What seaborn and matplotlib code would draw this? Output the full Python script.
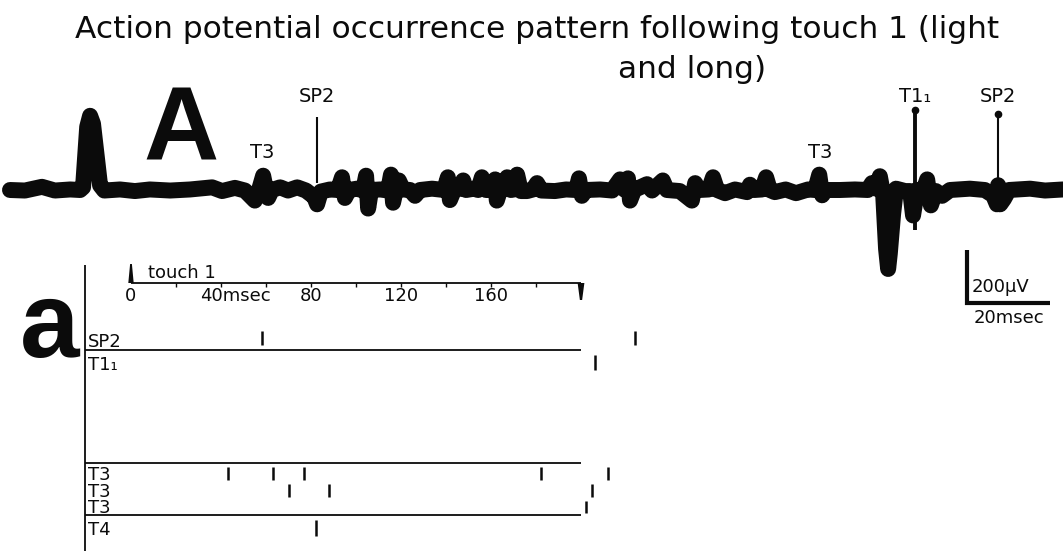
import matplotlib
matplotlib.use("Agg")
import matplotlib.pyplot as plt
import numpy as np
import pandas as pd
import seaborn as sns

# ------------------------------------------------------------------ data
# Panel A: superimposed oscilloscope sweeps, time (ms) and potential (µV)
trace_t = [0, 3.6, 7.7, 10.8, 14.5, 16.9, 17.6, 18.6, 19.3, 20.0,
           21.7, 22.7, 26.5, 30.1, 33.7, 38.6, 43.4, 48.7, 51.1, 54.2,
           56.6, 59.0, 60.0, 61.0, 61.7, 62.2, 63.1, 65.1, 67.0, 69.2,
           71.3, 73.3, 74.0, 74.9, 77.1, 79.0, 80.0, 80.7, 81.7, 83.6,
           85.1, 85.8, 86.3, 87.0, 89.2, 91.1, 91.8, 92.3, 93.0, 93.7,
           94.7, 96.4, 97.6, 98.8, 101.7, 104.6, 105.5, 106.0, 107.0, 108.4,
           109.2, 109.9, 111.8, 112.8, 113.7, 114.7, 116.1, 116.9, 117.3, 118.1,
           119.8, 120.7, 121.4, 122.2, 123.1, 124.6, 126.0, 127.0, 128.0, 131.3,
           134.0, 136.4, 137.1, 137.8, 138.8, 142.2, 145.1, 147.0, 148.0, 148.9,
           149.4, 150.4, 153.5, 154.7, 157.3, 158.3, 161.4, 164.3, 165.1, 166.0,
           168.4, 169.4, 170.4, 172.3, 174.7, 177.6, 178.3, 179.3, 181.2, 182.2,
           183.1, 184.3, 186.9, 189.4, 192.3, 194.0, 195.0, 195.7, 196.6, 200.0,
           203.6, 206.7, 207.7, 208.7, 209.6, 210.4, 211.1, 211.6, 212.0, 212.8,
           213.5, 215.7, 216.9, 217.6, 218.6, 220.2, 221.0, 221.9, 223.1, 224.6,
           226.5, 231.3, 234.9, 236.9, 237.8, 238.1, 238.6, 239.5, 240.7, 245.8,
           249.4, 253.7]
trace_v = [0, -2, 12, -2, 2, 0, 10, 238, 280, 250,
           18, -2, 2, -4, 2, -2, 2, 10, -4, 8,
           -2, -40, 0, 54, 0, -30, 0, 10, -2, 10,
           -2, -26, -54, -6, 2, 0, 48, -30, 0, 5,
           -2, 54, -70, 0, 2, -2, 58, -48, 2, 36,
           2, 0, -22, 0, 5, 0, 48, -38, 0, 5,
           36, 0, 5, 0, 48, 0, 0, 40, -40, 0,
           48, 0, 2, 58, -4, -4, 2, 26, -2, -4,
           2, 0, 44, -22, 0, 2, -2, 40, 2, 44,
           -40, 0, 22, -2, 36, 0, -4, -40, 26, 0,
           2, 48, 0, -12, 2, -8, 20, 0, 2, 48,
           0, -8, 2, -12, 2, 0, 58, -20, 0, 0,
           2, 0, 26, 5, 52, -16, -222, -298, -240, -90,
           5, -4, -4, -96, 0, 2, 40, -58, -4, -22,
           0, 5, 0, -20, -54, 18, -54, -34, 0, 5,
           -2, 2]

# fast spikes seen as thin vertical strokes in panel A
spike_names = ["SP2", "T1₁", "SP2"]
spike_t = [73.9, 218.1, 238.1]
spike_base = [26, -151, 19]
spike_peak = [275, 302, 287]
spike_dot = [False, True, True]

# other unit labels in panel A
unit_names = ["T3", "T3"]
unit_t = [60.7, 195.2]

# Panel a: occurrence pattern (raster), time after touch 1 in ms
raster_rows = ["SP2", "T1₁", "T3", "T3", "T3", "T4"]
raster_times = [[58, 224], [206], [43, 63, 77, 182, 212], [70, 88, 205], [202], [82]]
axis_ticks = [0, 40, 80, 120, 160]
axis_tick_labels = ["0", "40msec", "80", "120", "160"]
sweep_end = 200

# ------------------------------------------------------------------ style
sns.set_theme(style="white")
plt.rcParams["font.family"] = ["DejaVu Sans"]
INK = "#0b0b0b"

W, H = 1063, 551
fig = plt.figure(figsize=(W / 100, H / 100), dpi=100)
fig.patch.set_facecolor("white")

# pixel overlay (text layout)
ax_px = fig.add_axes([0, 0, 1, 1])
ax_px.set_xlim(0, W)
ax_px.set_ylim(H, 0)
ax_px.axis("off")

# panel A axes: ms / µV scaled like the oscillogram
px_per_ms_A = 83 / 20.0
px_per_uV = 53 / 200.0
x0_A, base_A = 10, 190
ax_t = fig.add_axes([0, 0, 1, 1])
ax_t.set_xlim(-x0_A / px_per_ms_A, (W - x0_A) / px_per_ms_A)
ax_t.set_ylim(-(H - base_A) / px_per_uV, base_A / px_per_uV)
ax_t.axis("off")
ax_t.patch.set_alpha(0)

# panel a axes: x in ms after touch, y in pixel rows
px_per_ms_a = 2.25
x0_a = 131
ax_r = fig.add_axes([0, 0, 1, 1])
ax_r.set_xlim(-x0_a / px_per_ms_a, (W - x0_a) / px_per_ms_a)
ax_r.set_ylim(H, 0)
ax_r.axis("off")
ax_r.patch.set_alpha(0)

# ------------------------------------------------------------------ title
ax_px.text(537, 30, "Action potential occurrence pattern following touch 1 (light",
           ha="center", va="center", fontsize=22.5, color=INK)
ax_px.text(692, 70, "and long)", ha="center", va="center", fontsize=22.5, color=INK)

# big panel letters
ax_px.text(181, 160, "A", ha="center", va="baseline", fontsize=75,
           family="Liberation Sans", fontweight="bold", color=INK)
ax_px.text(50, 357, "a", ha="center", va="baseline", fontsize=77,
           family="Liberation Sans", fontweight="bold", color=INK)

# ------------------------------------------------------------------ panel A trace
df = pd.DataFrame({"t": trace_t, "v": trace_v})
sns.lineplot(data=df, x="t", y="v", ax=ax_t, color=INK, lw=11.5, sort=False,
             estimator=None, legend=False, solid_joinstyle="round",
             solid_capstyle="round")
ax_t.set_xlabel("")
ax_t.set_ylabel("")

label_v = (base_A - 97) / px_per_uV
for name, t, b, p, d in zip(spike_names, spike_t, spike_base, spike_peak, spike_dot):
    lw = 2.8 if name.startswith("T1") else 1.5
    ax_t.plot([t, t], [b, p], color=INK, lw=lw, solid_capstyle="butt")
    if d:
        ax_t.plot([t], [p], "o", color=INK, ms=4.5)
    ax_t.text(t, label_v, name, ha="center", va="center", fontsize=14, color=INK)

for name, t in zip(unit_names, unit_t):
    ax_t.text(t, (base_A - 152) / px_per_uV, name, ha="center", va="center",
              fontsize=14, color=INK)

# scale bar: 20 ms, 200 µV
sb_t = (967 - x0_A) / px_per_ms_A
sb_v = (base_A - 303) / px_per_uV
ax_t.plot([sb_t, sb_t, sb_t + 20], [sb_v + 200, sb_v, sb_v], color=INK, lw=3,
          solid_joinstyle="miter", solid_capstyle="butt")
ax_t.text(sb_t + 1.2, sb_v + 62, "200µV", ha="left", va="center", fontsize=13, color=INK)
ax_t.text(sb_t + 10, sb_v - 58, "20msec", ha="center", va="center", fontsize=13, color=INK)

# ------------------------------------------------------------------ panel a raster
left_t = (85 - x0_a) / px_per_ms_a
# frame lines
ax_r.vlines(left_t, 265, H, color=INK, lw=1.3)
ax_r.hlines(283, 0, sweep_end, color=INK, lw=1.3)
ax_r.vlines(np.arange(20, sweep_end, 20), 283, 286.5, color=INK, lw=1.0)
ax_r.hlines([350, 463, 515], left_t, sweep_end, color=INK, lw=1.3)

# touch marker and sweep-end marker
ax_r.fill([-1.2, 1.2, 0.4, -0.4], [283, 283, 264, 264], color=INK, lw=0)
ax_r.fill([sweep_end - 1.5, sweep_end + 1.5, sweep_end + 0.5, sweep_end - 0.5],
          [283, 283, 300, 300], color=INK, lw=0)
ax_r.text(7.5, 273, "touch 1", ha="left", va="center", fontsize=13, color=INK)

for tk, lab in zip(axis_ticks, axis_tick_labels):
    if lab.endswith("msec"):
        ax_r.text(tk - 9.5, 296, lab, ha="left", va="center", fontsize=13, color=INK)
    else:
        ax_r.text(tk, 296, lab, ha="center", va="center", fontsize=13, color=INK)

row_label_y = [347, 370, 480, 497, 513, 535]
row_tick_top = [331, 355, 467, 484, 501, 520]
row_tick_bot = [345, 370, 480, 497, 513, 536]
for name, times, ly, t0, t1 in zip(raster_rows, raster_times, row_label_y,
                                   row_tick_top, row_tick_bot):
    ax_px.text(88, ly, name, ha="left", va="baseline", fontsize=13, color=INK)
    ax_r.vlines(times, t0, t1, color=INK, lw=1.8)

fig.savefig("out.png", dpi=100, facecolor="white")
